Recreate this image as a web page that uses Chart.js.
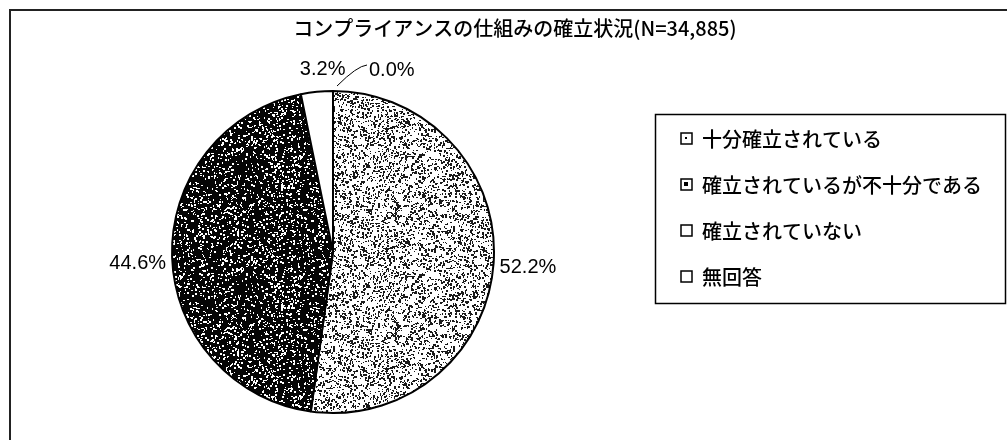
<!DOCTYPE html>
<html>
<head>
<meta charset="utf-8">
<script src="https://cdn.jsdelivr.net/npm/chart.js@4"></script>
<style>
  body { margin: 0; background: #fff; }
  #wrap { width: 1007px; height: 440px; }
</style>
</head>
<body>
<div id="wrap"><canvas id="myChart" width="1007" height="440"></canvas></div>
<script>
// Data

const chartTitle = "コンプライアンスの仕組みの確立状況(N=34,885)";
const categories = ["十分確立されている", "確立されているが不十分である", "確立されていない", "無回答"];
const shares = [52.2, 44.6, 3.2, 0.0];
const shareLabels = ["52.2%", "44.6%", "3.2%", "0.0%"];

// Speckle textures (scanned-print look)

const canvas = document.getElementById("myChart");
const ctx = canvas.getContext("2d");

function speckle(bg, fg, density, seed) {
  let tile = document.createElement("canvas");
  tile.width = 120;
  tile.height = 120;
  let g = tile.getContext("2d");
  g.fillStyle = bg;
  g.fillRect(0, 0, 120, 120);
  let s = seed;
  let rnd = () => {
    s = (s * 16807) % 2147483647;
    return s / 2147483647;
  };
  g.fillStyle = fg;
  let n = Math.floor(120 * 120 * density);
  for (let i = 0; i < n; i++) {
    let x = Math.floor(rnd() * 120);
    let y = Math.floor(rnd() * 120);
    let w = 1 + Math.floor(rnd() * 2);
    let h = 1 + Math.floor(rnd() * 2);
    g.fillRect(x, y, w, h);
  }
  return ctx.createPattern(tile, "repeat");
}

const lightFill = speckle("#ffffff", "#1a1a1a", 0.15, 12345);
const darkFill = speckle("#050505", "#ffffff", 0.09, 67890);
const fills = [lightFill, darkFill, "#ffffff", "#ffffff"];

// Text, frames and legend

const decorations = {
  id: "decorations",
  afterDraw(chart) {
    const c = chart.ctx;
    c.save();

    // outer frame (runs off the page on the right and bottom)
    c.strokeStyle = "#222";
    c.lineWidth = 2;
    c.strokeRect(10, 10, 1010, 450);

    // title
    c.fillStyle = "#000";
    c.font = "500 20px 'Noto Sans CJK JP'";
    c.textAlign = "center";
    c.textBaseline = "middle";
    c.fillText(chartTitle, 515, 28);

    // slice labels
    const arcs = chart.getDatasetMeta(0).data;
    c.font = "20px 'Liberation Sans'";
    arcs.forEach((arc, i) => {
      const mid = (arc.startAngle + arc.endAngle) / 2;
      const r = arc.outerRadius;
      let x, y;
      if (i === 0) {
        x = arc.x + Math.cos(mid) * (r + 6);
        y = arc.y + Math.sin(mid) * (r + 6) + 4;
        c.textAlign = "left";
      } else if (i === 1) {
        x = arc.x + Math.cos(mid) * (r + 6);
        y = arc.y + Math.sin(mid) * (r + 6) + 6;
        c.textAlign = "right";
      } else if (i === 2) {
        x = arc.x + Math.cos(mid) * (r + 22) + 8;
        y = arc.y + Math.sin(mid) * (r + 22);
        c.textAlign = "center";
      } else {
        // leader line for the zero slice
        const sx = arc.x + 4;
        const sy = arc.y - r - 5;
        c.beginPath();
        c.lineWidth = 1;
        c.strokeStyle = "#000";
        c.moveTo(sx, sy);
        c.quadraticCurveTo(sx + 20, sy - 20, sx + 30, sy - 21);
        c.stroke();
        x = sx + 32;
        y = sy - 16;
        c.textAlign = "left";
      }
      c.fillText(shareLabels[i], x, y);
    });

    // legend
    c.lineWidth = 1.5;
    c.strokeStyle = "#000";
    c.strokeRect(655.5, 114.5, 350, 189);
    c.font = "500 20px 'Noto Sans CJK JP'";
    c.textAlign = "left";
    categories.forEach((label, i) => {
      const y = 139 + i * 46;
      c.fillStyle = "#fff";
      c.fillRect(681, y - 6, 11, 11);
      c.fillStyle = "#000";
      if (i === 0) c.fillRect(685, y - 2, 2, 2);
      if (i === 1) c.fillRect(684, y - 3, 4, 4);
      c.lineWidth = 1.5;
      c.strokeRect(681, y - 6, 11, 11);
      c.fillText(label, 702, y);
    });

    c.restore();
  },
};

// Chart

const chart = new Chart(ctx, {
  type: "pie",
  data: {
    labels: categories,
    datasets: [
      {
        data: shares,
        backgroundColor: fills,
        borderColor: "#000",
        borderWidth: 2,
      },
    ],
  },
  options: {
    responsive: false,
    animation: false,
    layout: {
      padding: { left: 171, right: 512, top: 90, bottom: 26 },
    },
    plugins: {
      legend: { display: false },
      tooltip: { enabled: false },
    },
  },
  plugins: [decorations],
});
</script>
</body>
</html>
